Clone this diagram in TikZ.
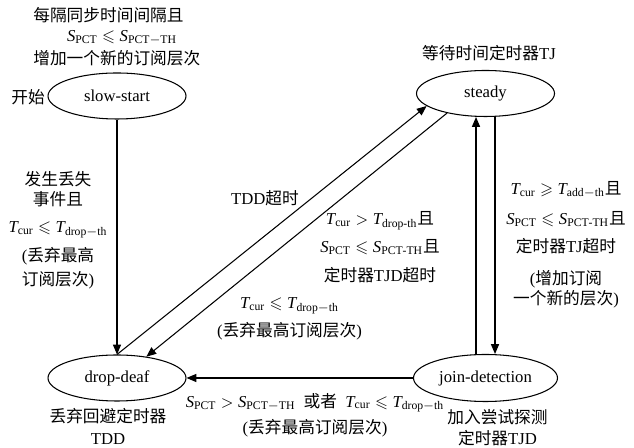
\documentclass[tikz,border=0pt]{standalone}
\usepackage{amsmath,amssymb}
\usepackage{fontspec}
\setmainfont{Liberation Serif}
\newfontfamily\zhfont{Noto Sans CJK SC}
\newcommand{\zh}[1]{{\zhfont #1}}
\newcommand{\vT}{\mathit{T}}
\newcommand{\vS}{\mathit{S}}
\usetikzlibrary{arrows.meta,calc,shapes.geometric}

\begin{document}
\begin{tikzpicture}[
  font=\fontsize{9.5}{11.4}\selectfont,
  state/.style={draw,ellipse,line width=0.6pt,minimum width=2.76cm,minimum height=0.92cm,inner sep=0pt},
  trans/.style={line width=0.6pt,-{Triangle[length=5.6pt,width=4.6pt]}},
  lbl/.style={align=center,inner sep=0pt}
]
\useasboundingbox (0,0) rectangle (12.68,8.96);

% states
\node[state] (ss) at (2.34,7.04) {slow-start};
\node[state] (st) at (9.71,7.09) {steady};
\node[state] (dd) at (2.34,1.40) {drop-deaf};
\node[state,minimum width=2.88cm,minimum height=0.94cm] (jd) at (9.71,1.40) {join-detection};

% transitions
\draw[trans] (ss) -- (dd);
\draw[trans] (dd.north) -- (st.192);
\draw[trans] (st.207) -- (dd.36);
\draw[trans] ([xshift=-0.19cm]jd.north) -- ([xshift=-0.19cm]st.south);
\draw[trans] ([xshift=0.19cm]st.south) -- ([xshift=0.19cm]jd.north);
\draw[trans] (jd) -- (dd);

% labels
\node[lbl] (startLbl) at (0.56,7.02) {\zh{开始}};
\node[lbl,anchor=west] (topA) at (0.66,8.66) {\zh{每隔同步时间间隔且}};
\node[lbl] (topB) at (2.44,8.20) {$\vS_{\mathrm{PCT}}\leqslant \vS_{\mathrm{PCT-TH}}$};
\node[lbl,anchor=west] (topC) at (0.66,7.80) {\zh{增加一个新的订阅层次}};

\node[lbl] (lossLbl) at (1.16,4.36) {\zh{发生丢失}\\\zh{事件且}\\[4pt]
  $\vT_{\mathrm{cur}}\leqslant \vT_{\mathrm{drop-th}}$\\[5pt]
  (\zh{丢弃最高}\\[2.3pt]\zh{订阅层次})};

\node[lbl] (tddLbl) at (5.30,5.00) {TDD\zh{超时}};

\node[lbl] (tjdLbl) at (7.60,4.02) {$\vT_{\mathrm{cur}}>\vT_{\mathrm{drop\text{-}th}}$\zh{且}\\[4.5pt]
  $\vS_{\mathrm{PCT}}\leqslant \vS_{\mathrm{PCT\text{-}TH}}$\zh{且}\\[5pt]
  \zh{定时器}TJD\zh{超时}};

\node[lbl] (dropLbl) at (5.79,2.58) {$\vT_{\mathrm{cur}}\leqslant \vT_{\mathrm{drop-th}}$\\[4.5pt]
  (\zh{丢弃最高订阅层次})};

\node[lbl] (tjLbl) at (9.78,7.90) {\zh{等待时间定时器}TJ};

\node[lbl] (addLbl) at (11.32,4.07) {$\vT_{\mathrm{cur}}\geqslant \vT_{\mathrm{add-th}}$\zh{且}\\[5.6pt]
  $\vS_{\mathrm{PCT}}\leqslant \vS_{\mathrm{PCT\text{-}TH}}$\zh{且}\\[4.5pt]
  \zh{定时器}TJ\zh{超时}\\[6.8pt]
  (\zh{增加订阅}\\\zh{一个新的层次})};

\node[lbl] (ddLbl) at (2.16,0.44) {\zh{丢弃回避定时器}\\[1.1pt]TDD};
\node[lbl] (jdLbl) at (9.95,0.41) {\zh{加入尝试探测}\\[0.6pt]\zh{定时器}TJD};

\node[lbl] (bottomLbl) at (6.30,0.66) {$\vS_{\mathrm{PCT}}>\vS_{\mathrm{PCT-TH}}$\enskip\zh{或者}\enskip
  $\vT_{\mathrm{cur}}\leqslant \vT_{\mathrm{drop-th}}$\\[3.4pt]
  (\zh{丢弃最高订阅层次})};

\end{tikzpicture}
\end{document}
